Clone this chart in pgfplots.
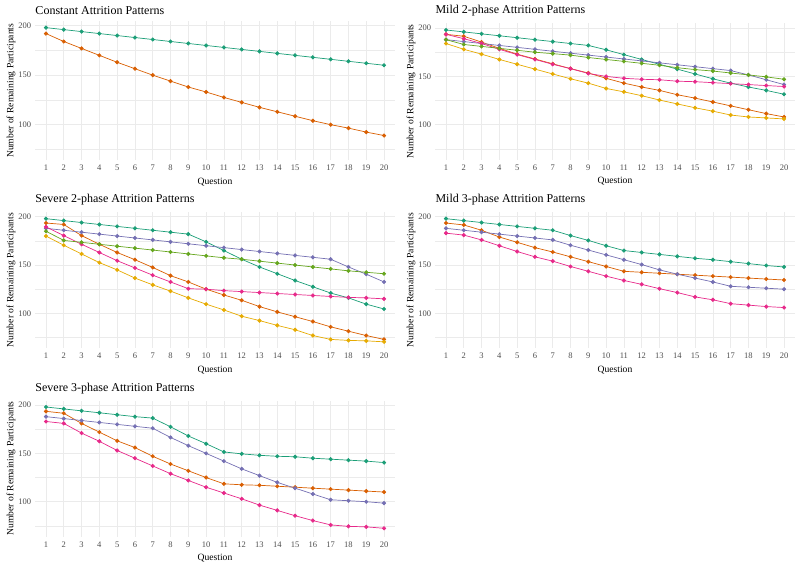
\documentclass[border=0pt]{standalone}
\usepackage{fontspec}
\setmainfont{Liberation Serif}
\usepackage{pgfplots}
\usepackage{pgfplotstable}
\pgfplotsset{compat=1.18}
\definecolor{cteal}{HTML}{1B9E77}
\definecolor{corange}{HTML}{D95F02}
\definecolor{cpurple}{HTML}{7570B3}
\definecolor{cpink}{HTML}{E7298A}
\definecolor{cgreen}{HTML}{66A61E}
\definecolor{cyellow}{HTML}{E6AB02}
\definecolor{gridc}{HTML}{EBEBEB}
\definecolor{tickc}{HTML}{4D4D4D}

\pgfplotstableread{
q teal orange
1 198 192
2 196 184
3 194 177
4 192 170
5 190 163
6 188 156.5
7 186 150
8 184 144
9 182 138
10 180 133
11 178 127.5
12 176 122.5
13 174 117.5
14 172 113
15 170 108.5
16 168 104
17 166 100
18 164 96.5
19 162 92.5
20 160 89
}\tabA

\pgfplotstableread{
q teal purple green orange pink yellow
1 198 188 188 193.5 193.5 184
2 196 186 183 191.5 189 178
3 194 184 181 185.5 184 173
4 192 182 179 179 178 167.5
5 190 180 177 173 172.5 162.5
6 188 178 175 168 167.5 157.5
7 186 176 173.5 163 162.5 152.5
8 184 174 172 158 158 147.5
9 182 172 169.5 153.5 153 143
10 177.5 170 167.5 148 150 137.5
11 172.5 168 165.5 143 148 134
12 167.5 166 163.5 139 147 130
13 162.5 164 161.5 135.5 146.5 125.5
14 157.5 162 159 131 145 121.5
15 152.5 160 157 127.5 144.5 117.5
16 147.5 158 155.5 123.5 143.5 114
17 143 156 153.5 119.5 142.5 110
18 139 151.5 151.5 115.5 141.5 108
19 135.5 146.5 149.5 111.5 140.5 107
20 131.5 141.5 147 108 139.5 106
}\tabB

\pgfplotstableread{
q teal purple green orange pink yellow
1 198 188 185 193.5 189.5 180
2 196 186 175.5 192 180.5 170.5
3 194 184 173.5 180.5 171.5 161.5
4 192 182 171.5 171.5 163 152.5
5 190 180 169.5 163 154.5 145
6 188 178 167.5 155.5 147 136.5
7 186 176 165.5 147.5 139.5 129.5
8 184 174 163.5 139 132.5 123
9 182 172 161.5 132.5 125.5 116
10 174 170 159.5 125 125 109.5
11 165 168 157.5 119 123.5 103.5
12 156 166 156 113.5 122.5 97
13 148 164 154 107 121.5 92.5
14 141 162 152 101.5 120.5 87.5
15 134 160 150 96.5 119.5 83
16 127.5 158 148 91.5 118.5 77
17 121 156 146 86 117.5 73
18 116 148 144 81.5 116.5 72
19 109.5 140.5 142.5 77 116 71.5
20 104.5 132.5 141 73 115 70.5
}\tabC

\pgfplotstableread{
q teal orange purple pink
1 198 193.5 188 183
2 196 191.5 186 181
3 194 186 184 176
4 192 179 182 170
5 190 173.5 180 164
6 188 168 178 158.5
7 186 163.5 176 154
8 180.5 158.5 170.5 148.5
9 175.5 153.5 165.5 143.5
10 170 148.5 160.5 138.5
11 165 143.5 155.5 134
12 163 142.5 150.5 130
13 161 141.5 145 125.5
14 159 140.5 140.5 121.5
15 157 139.5 136.5 117
16 155.5 138.5 132.5 114
17 153.5 137.5 128 110
18 151.5 136.5 127 108.5
19 149.5 135.5 126 107
20 148 134.5 125 106
}\tabD

\pgfplotstableread{
q teal orange purple pink
1 198 193.5 188 183
2 196 191.5 186 181
3 194 181 184 171
4 192 172 182 162.5
5 190 163 180 153
6 188 156 178 145
7 186.5 147 176 137
8 177.5 139 166.5 129
9 168 132 158 122
10 160 125 150 115
11 151.5 118.5 142 109
12 149.5 117.5 134 103
13 148 117 127 96.5
14 147 116 120 91
15 146.5 115 114 85.5
16 145 114 108 80.5
17 144 113 102 76
18 143 112 101 74.5
19 142 111 100 74
20 140.5 110 98.5 72.5
}\tabE

\pgfplotsset{
  panel/.style={
    anchor=south west,
    width=359.4pt,
    scale only axis,
    xmin=0.4, xmax=20.6,
    ymin=63.9, ymax=204.7,
    xtick={1,...,20},
    ytick={100,150,200},
    minor ytick={75,125,175},
    xmajorgrids, ymajorgrids, yminorgrids,
    major grid style={draw=gridc, line width=0.55pt},
    minor grid style={draw=gridc, line width=0.3pt},
    axis line style={draw=none},
    major tick length=0pt, minor tick length=0pt,
    tick style={draw=none},
    /pgf/number format/assume math mode=true,
    ticklabel style={font=\fontsize{8.5}{10}\selectfont, text=tickc, inner sep=0pt},
    xticklabel style={anchor=base, yshift=-10.5pt},
    yticklabel style={anchor=east, xshift=-4pt},
    xlabel={Question},
    ylabel={Number of Remaining Participants},
    label style={font=\fontsize{9.6}{11}\selectfont},
    xlabel style={at={(axis description cs:0.5,0)}, anchor=base, yshift=-24pt},
    ylabel style={at={(axis description cs:-0.0676,0.5)}, anchor=center},
    title style={at={(axis description cs:0,1)}, anchor=base west, inner sep=0pt, font=\fontsize{12}{14}\selectfont},
  },
  ser/.style={color=#1, line width=0.7pt, mark=*, mark size=1.7pt, mark options={solid, fill=#1, draw=#1}},
}

\begin{document}
\begin{tikzpicture}
\useasboundingbox (0,0) rectangle (800pt,566pt);

\begin{axis}[panel, at={(35.3pt,405.6pt)}, height=139.4pt,
  title={Constant Attrition Patterns}, title style={yshift=0.7pt}]
\addplot[ser=cteal] table[x=q,y=teal] {\tabA};
\addplot[ser=corange] table[x=q,y=orange] {\tabA};
\end{axis}

\begin{axis}[panel, at={(435.3pt,406.4pt)}, height=136.1pt,
  title={Mild 2-phase Attrition Patterns}, title style={yshift=3.5pt}]
\addplot[ser=cteal] table[x=q,y=teal] {\tabB};
\addplot[ser=corange] table[x=q,y=orange] {\tabB};
\addplot[ser=cpurple] table[x=q,y=purple] {\tabB};
\addplot[ser=cpink] table[x=q,y=pink] {\tabB};
\addplot[ser=cgreen] table[x=q,y=green] {\tabB};
\addplot[ser=cyellow] table[x=q,y=yellow] {\tabB};
\end{axis}

\begin{axis}[panel, at={(35.3pt,217.8pt)}, height=136pt,
  title={Severe 2-phase Attrition Patterns}, title style={yshift=3.5pt}]
\addplot[ser=cteal] table[x=q,y=teal] {\tabC};
\addplot[ser=corange] table[x=q,y=orange] {\tabC};
\addplot[ser=cpurple] table[x=q,y=purple] {\tabC};
\addplot[ser=cpink] table[x=q,y=pink] {\tabC};
\addplot[ser=cgreen] table[x=q,y=green] {\tabC};
\addplot[ser=cyellow] table[x=q,y=yellow] {\tabC};
\end{axis}

\begin{axis}[panel, at={(435.3pt,217.8pt)}, height=136pt,
  title={Mild 3-phase Attrition Patterns}, title style={yshift=3.5pt}]
\addplot[ser=cteal] table[x=q,y=teal] {\tabD};
\addplot[ser=corange] table[x=q,y=orange] {\tabD};
\addplot[ser=cpurple] table[x=q,y=purple] {\tabD};
\addplot[ser=cpink] table[x=q,y=pink] {\tabD};
\end{axis}

\begin{axis}[panel, at={(35.3pt,29.4pt)}, height=136.1pt,
  title={Severe 3-phase Attrition Patterns}, title style={yshift=2.8pt}]
\addplot[ser=cteal] table[x=q,y=teal] {\tabE};
\addplot[ser=corange] table[x=q,y=orange] {\tabE};
\addplot[ser=cpurple] table[x=q,y=purple] {\tabE};
\addplot[ser=cpink] table[x=q,y=pink] {\tabE};
\end{axis}
\end{tikzpicture}
\end{document}
